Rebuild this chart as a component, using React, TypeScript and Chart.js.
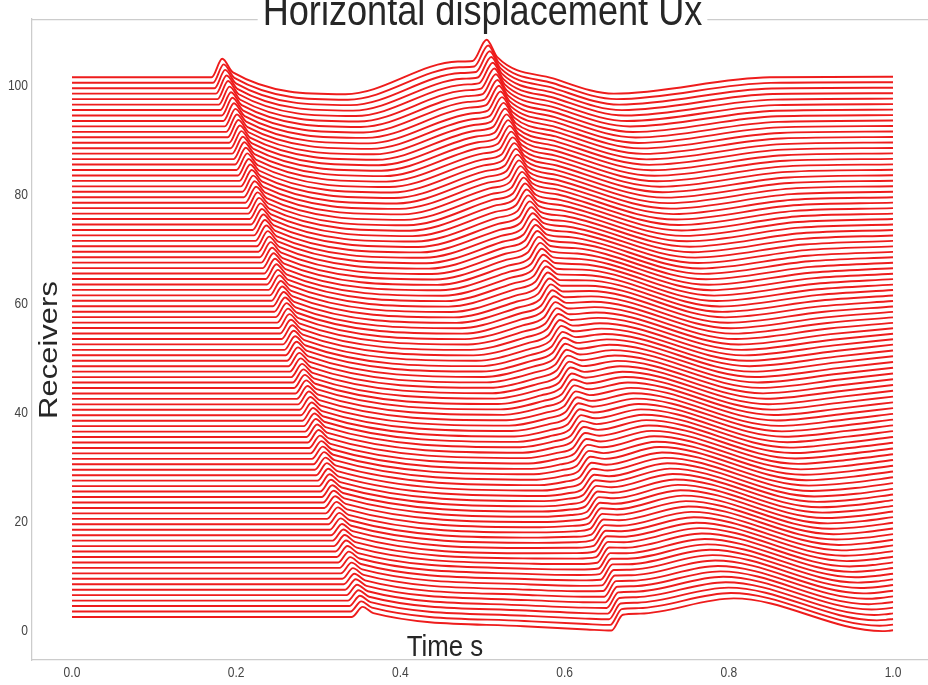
import React, { useEffect, useRef } from 'react';
import { Chart, registerables } from 'chart.js';

Chart.register(...registerables);

// ---- text ----
const TITLE = 'Horizontal displacement Ux';
const X_LABEL = 'Time s';
const Y_LABEL = 'Receivers';

// ---- axes ----
const X_TICKS = [0, 0.2, 0.4, 0.6, 0.8, 1.0];
const X_TICK_LABELS = ['0.0', '0.2', '0.4', '0.6', '0.8', '1.0'];
const Y_TICKS = [0, 20, 40, 60, 80, 100];
const Y_TICK_LABELS = ['0', '20', '40', '60', '80', '100'];
const X_MIN = -0.0487;
const X_MAX = 1.0426;
const Y_MIN = -5.3;
const Y_MAX = 112.3;

// ---- receivers ----
const RECEIVER_COUNT = 100;
const FIRST_OFFSET = 2.6; // baseline of receiver 0
const OFFSET_STEP = 1.0; // spacing between traces

// ---- reference traces ----
// keypoints: start, P-onset, P-peak, P-end, trough 1, pre-S, S-onset, S-peak,
//            post-S, crest, trough 2, settle, end
const REF_RECEIVERS = [0, 25, 50, 75, 99];

const REF_0_T = [0, 0.341, 0.354, 0.367, 0.55, 0.627, 0.657, 0.671, 0.692, 0.806, 0.987, 0.994, 1.0];
const REF_0_V = [0, 0, 1.85, 0.7, -1.7, -2.3, -2.5, 0.4, 0.6, 3.4, -2.6, -2.55, -2.45];

const REF_25_T = [0, 0.299, 0.312, 0.325, 0.576, 0.604, 0.621, 0.636, 0.654, 0.725, 0.904, 0.955, 1.0];
const REF_25_V = [0, 0, 2.2, 0.75, -2.8, -2.3, -1.6, 1.1, 0.8, 3.2, -2.9, -2.4, -1.5];

const REF_50_T = [0, 0.257, 0.27, 0.283, 0.492, 0.556, 0.582, 0.596, 0.612, 0.645, 0.822, 0.93, 1.0];
const REF_50_V = [0, 0, 2.5, 0.8, -3.0, -0.9, 0.6, 3.4, 2.4, 2.9, -3.0, -1.2, -0.05];

const REF_75_T = [0, 0.213, 0.226, 0.239, 0.408, 0.512, 0.537, 0.55, 0.563, 0.592, 0.739, 0.88, 1.0];
const REF_75_V = [0, 0, 2.9, 0.85, -3.15, 1.5, 2.7, 5.6, 3.5, 2.5, -3.1, -0.5, 0.0];

const REF_99_T = [0, 0.17, 0.183, 0.196, 0.333, 0.47, 0.488, 0.505, 0.518, 0.586, 0.66, 0.85, 1.0];
const REF_99_V = [0, 0, 3.4, 0.9, -3.1, 2.9, 3.0, 6.9, 3.7, -0.2, -3.0, 0.0, 0.1];

const LINE_COLOR = '#ee1c1c';
const FRAME_COLOR = '#cccccc';
const TEXT_COLOR = '#262626';
const TICK_COLOR = '#444444';
const SQUEEZE = 0.86;
const FONT = '"Liberation Sans", Arial, sans-serif';

function buildTrace(i: number) {
  const refT = [REF_0_T, REF_25_T, REF_50_T, REF_75_T, REF_99_T];
  const refV = [REF_0_V, REF_25_V, REF_50_V, REF_75_V, REF_99_V];
  let k = 0;
  while (k < REF_RECEIVERS.length - 2 && i > REF_RECEIVERS[k + 1]) k++;
  const r0 = REF_RECEIVERS[k];
  const r1 = REF_RECEIVERS[k + 1];
  const f = (i - r0) / (r1 - r0);
  const base = FIRST_OFFSET + i * OFFSET_STEP;
  return refT[k].map((t, j) => ({
    x: t + (refT[k + 1][j] - t) * f,
    y: base + refV[k][j] + (refV[k + 1][j] - refV[k][j]) * f,
  }));
}

function squeezedText(
  ctx: CanvasRenderingContext2D,
  text: string,
  x: number,
  y: number,
  font: string,
  align: CanvasTextAlign,
  baseline: CanvasTextBaseline,
  rotate = 0
) {
  ctx.save();
  ctx.translate(x, y);
  ctx.scale(SQUEEZE, 1);
  if (rotate) ctx.rotate(rotate);
  ctx.font = font;
  ctx.textAlign = align;
  ctx.textBaseline = baseline;
  ctx.fillText(text, 0, 0);
  ctx.restore();
}

const textPlugin = {
  id: 'seismoText',
  afterDraw(chart: any) {
    const ctx = chart.ctx as CanvasRenderingContext2D;
    const area = chart.chartArea;
    const xs = chart.scales.x;
    const ys = chart.scales.y;
    const titleX = 482.5;
    ctx.save();
    ctx.font = '42px ' + FONT;
    const tw = ctx.measureText(TITLE).width * SQUEEZE;
    // top frame line with gap for the title
    ctx.strokeStyle = FRAME_COLOR;
    ctx.lineWidth = 1.25;
    ctx.beginPath();
    ctx.moveTo(area.left, area.top + 0.5);
    ctx.lineTo(titleX - tw / 2 - 5, area.top + 0.5);
    ctx.moveTo(titleX + tw / 2 + 5, area.top + 0.5);
    ctx.lineTo(area.right, area.top + 0.5);
    ctx.stroke();

    // tick labels
    ctx.fillStyle = TICK_COLOR;
    X_TICKS.forEach((v, k) => {
      squeezedText(ctx, X_TICK_LABELS[k], xs.getPixelForValue(v), area.bottom + 13, '14px ' + FONT, 'center', 'middle');
    });
    Y_TICKS.forEach((v, k) => {
      squeezedText(ctx, Y_TICK_LABELS[k], area.left - 4, ys.getPixelForValue(v), '14px ' + FONT, 'right', 'middle');
    });

    ctx.fillStyle = TEXT_COLOR;
    squeezedText(ctx, TITLE, titleX, 25, '42px ' + FONT, 'center', 'alphabetic');
    squeezedText(ctx, X_LABEL, 445, 656, '30px ' + FONT, 'center', 'alphabetic');
    squeezedText(ctx, Y_LABEL, 57, 350, '31px ' + FONT, 'center', 'alphabetic', -Math.PI / 2);
    ctx.restore();
  },
};

export default function App() {
  const canvasRef = useRef<HTMLCanvasElement | null>(null);

  useEffect(() => {
    if (!canvasRef.current) return;
    const traces = [];
    for (let i = 0; i < RECEIVER_COUNT; i++) traces.push(buildTrace(i));

    const chart = new Chart(canvasRef.current, {
      type: 'line',
      data: {
        datasets: traces.map((pts, i) => ({
          label: 'Receiver ' + i,
          data: pts,
          borderColor: LINE_COLOR,
          borderWidth: 1.9,
          pointRadius: 0,
          fill: false,
          tension: 0.4,
          cubicInterpolationMode: 'monotone' as const,
        })),
      },
      options: {
        animation: false,
        responsive: true,
        maintainAspectRatio: false,
        parsing: false,
        events: [],
        layout: { padding: { top: 19, left: 0, right: 0, bottom: 0 } },
        plugins: {
          legend: { display: false },
          tooltip: { enabled: false },
          title: { display: false },
        },
        scales: {
          x: {
            type: 'linear',
            min: X_MIN,
            max: X_MAX,
            grid: { display: false, drawTicks: false },
            border: { display: true, color: FRAME_COLOR, width: 1.25 },
            ticks: { display: false },
            afterBuildTicks: (s: any) => {
              s.ticks = X_TICKS.map((v) => ({ value: v }));
            },
            afterFit: (s: any) => {
              s.height = 25;
            },
          },
          y: {
            type: 'linear',
            min: Y_MIN,
            max: Y_MAX,
            grid: { display: false, drawTicks: false },
            border: { display: true, color: FRAME_COLOR, width: 1.25 },
            ticks: { display: false },
            afterBuildTicks: (s: any) => {
              s.ticks = Y_TICKS.map((v) => ({ value: v }));
            },
            afterFit: (s: any) => {
              s.width = 32;
            },
          },
        },
      },
      plugins: [textPlugin],
    } as any);

    return () => chart.destroy();
  }, []);

  return (
    <div style={{ position: 'fixed', left: 0, top: 0, width: 928, height: 685, background: '#ffffff' }}>
      <canvas ref={canvasRef} />
    </div>
  );
}
